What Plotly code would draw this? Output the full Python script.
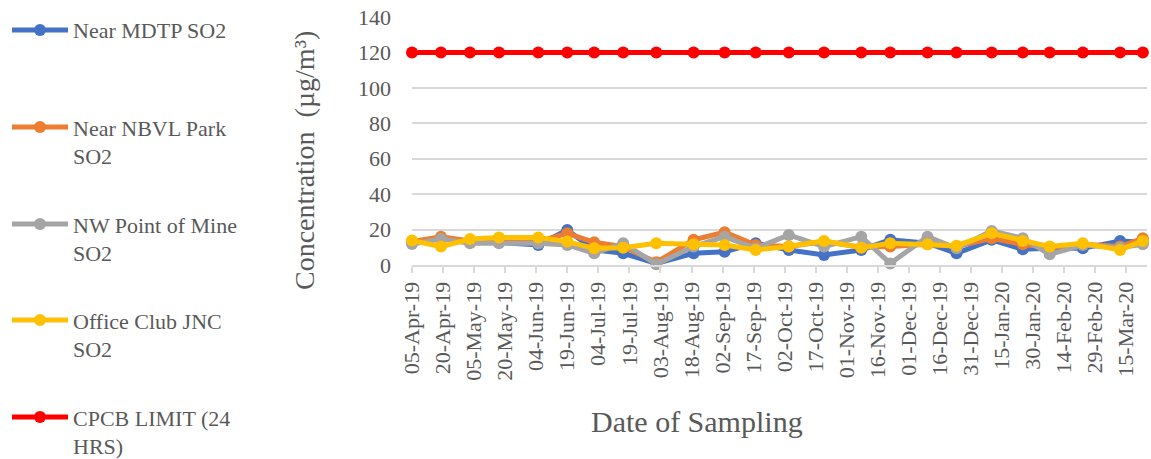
import plotly.graph_objects as go

dates = ['2019-04-05', '2019-04-19', '2019-05-03', '2019-05-17', '2019-06-05', '2019-06-19',
         '2019-07-02', '2019-07-16', '2019-08-01', '2019-08-19', '2019-09-03', '2019-09-18',
         '2019-10-04', '2019-10-21', '2019-11-08', '2019-11-22', '2019-12-10', '2019-12-24',
         '2020-01-10', '2020-01-25', '2020-02-07', '2020-02-23', '2020-03-12', '2020-03-23']

mdtp = [12.6, 15.1, 13.2, 12.8, 11.3, 19.8, 8.5, 6.6, 0.9, 6.6, 7.5, 12.3,
        8.5, 5.7, 8.5, 14.2, 12.3, 6.6, 14.2, 8.9, 9.4, 9.4, 13.6, 12.8]
nbvl = [13.2, 16.0, 13.6, 14.2, 13.2, 17.9, 12.8, 10.4, 1.5, 14.2, 18.5, 11.3,
        10.4, 13.2, 10.0, 10.4, 11.7, 10.4, 15.1, 11.7, 9.8, 11.7, 10.4, 15.1]
nw_mine = [11.9, 14.7, 12.3, 12.3, 12.3, 11.3, 6.6, 12.3, 0.4, 10.4, 16.0, 9.4,
           17.0, 10.4, 16.0, 0.9, 16.0, 9.4, 19.2, 15.1, 6.0, 11.3, 9.8, 11.7]
office = [13.8, 10.4, 14.7, 15.5, 15.5, 13.2, 9.4, 9.8, 12.3, 11.7, 11.3, 8.5,
          10.4, 13.6, 9.8, 12.3, 11.7, 10.9, 17.9, 13.6, 10.4, 12.3, 8.5, 13.6]
cpcb_limit = [120] * 24

series_names = ['Near MDTP SO2', 'Near NBVL Park SO2', 'NW Point of Mine SO2',
                'Office Club JNC SO2', 'CPCB LIMIT (24 HRS)']
legend_lines = [['Near MDTP SO2'], ['Near NBVL Park', 'SO2'], ['NW Point of Mine', 'SO2'],
                ['Office Club JNC', 'SO2'], ['CPCB LIMIT (24', 'HRS)']]
series_values = [mdtp, nbvl, nw_mine, office, cpcb_limit]
series_colors = ['#4472C4', '#ED7D31', '#A5A5A5', '#FFC000', '#FF0000']

FONT = 'Times New Roman'
GRAY = '#595959'

fig = go.Figure()
for name, vals, col in zip(series_names, series_values, series_colors):
    fig.add_trace(go.Scatter(
        x=dates, y=vals, name=name, mode='lines+markers',
        line=dict(color=col, width=5),
        marker=dict(color=col, size=12),
        cliponaxis=False, showlegend=False,
    ))

L, R, T, B = 412, 4, 17, 194
W, H = 1151, 459
pw = W - L - R
ph = H - T - B


def px_x(px):
    return (px - L) / pw


def px_y(py):
    return (H - B - py) / ph


annotations = [
    dict(text='Concentration  (µg/m³)', textangle=-90,
         xref='paper', yref='paper', x=px_x(305), y=px_y(161),
         xanchor='center', yanchor='middle', showarrow=False,
         font=dict(family=FONT, size=28, color=GRAY)),
    dict(text='Date of Sampling',
         xref='paper', yref='paper', x=px_x(697), y=px_y(421),
         xanchor='center', yanchor='middle', showarrow=False,
         font=dict(family=FONT, size=30, color=GRAY)),
]
shapes = []

legend_rows = [30, 127, 224, 320, 417]
line_gap = 28.5
for lines, col, ry in zip(legend_lines, series_colors, legend_rows):
    shapes.append(dict(type='line', xref='paper', yref='paper',
                       x0=px_x(12), x1=px_x(68), y0=px_y(ry), y1=px_y(ry),
                       line=dict(color=col, width=5)))
    shapes.append(dict(type='circle', xref='paper', yref='paper',
                       x0=px_x(34), x1=px_x(46), y0=px_y(ry - 6), y1=px_y(ry + 6),
                       fillcolor=col, line=dict(color=col, width=0)))
    for k, txt in enumerate(lines):
        annotations.append(dict(text=txt, xref='paper', yref='paper',
                                x=px_x(71), y=px_y(ry + k * line_gap + 1),
                                xanchor='left', yanchor='middle', showarrow=False,
                                font=dict(family=FONT, size=22, color=GRAY)))

fig.update_layout(
    width=W, height=H,
    margin=dict(l=L, r=R, t=T, b=B, pad=0, autoexpand=False),
    paper_bgcolor='white', plot_bgcolor='white',
    font=dict(family=FONT, color=GRAY, size=22),
    showlegend=False,
    xaxis=dict(
        type='date', range=['2019-04-05', '2020-03-25'],
        tick0='2019-04-05', dtick=15 * 86400000, tickformat='%d-%b-%y',
        tickangle=-90, showgrid=False, showline=True, linecolor='#D9D9D9', linewidth=2,
        ticks='outside', ticklen=6, tickwidth=2, tickcolor='#D9D9D9',
        tickfont=dict(family=FONT, size=22, color=GRAY), zeroline=False, automargin=False,
    ),
    yaxis=dict(
        range=[0, 140], tick0=0, dtick=20, showgrid=True, gridcolor='#D9D9D9', gridwidth=1.5,
        zeroline=False, showline=False, ticks='', ticklabelstandoff=20,
        tickfont=dict(family=FONT, size=22, color=GRAY), automargin=False,
    ),
    annotations=annotations,
    shapes=shapes,
)

fig.write_html('out.html', config={'displayModeBar': False},
               post_script="document.body.style.margin='0px';")
